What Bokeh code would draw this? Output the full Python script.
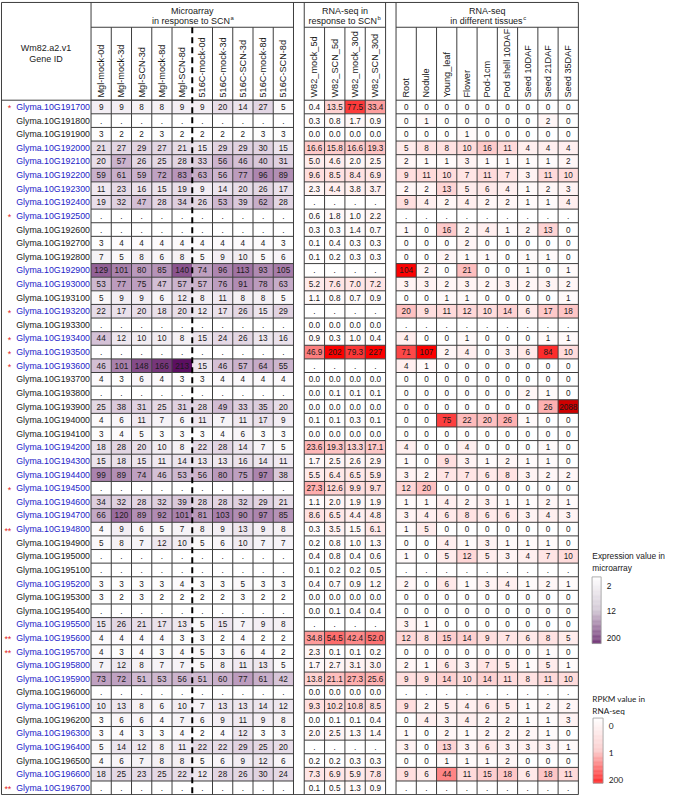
import numpy as np
from bokeh.plotting import figure
from bokeh.models import Range1d, ColumnDataSource, LinearColorMapper
from bokeh.transform import transform
from bokeh.core.properties import value
from bokeh.embed import file_html
from bokeh.resources import INLINE

# ---------------- data ----------------
gene_ids = ["Glyma.10G%d" % n for n in range(191700, 196800, 100)]
blue_genes = ["191700", "192000", "192100", "192200", "192300", "192400", "192500", "192900",
              "193000", "193200", "193400", "193500", "193600", "194200", "194300", "194400",
              "194500", "194600", "194700", "194800", "195200", "195500", "195600", "195700",
              "195800", "195900", "196100", "196300", "196400", "196600", "196700"]
star_marks = {"191700": "*", "192500": "*", "193200": "*", "193400": "*", "193500": "*",
              "193600": "*", "194500": "*", "194800": "**", "195600": "**", "195700": "**",
              "196700": "**"}

ma_cols = ["Mgl-mock-0d", "Mgl-mock-3d", "Mgl-SCN-3d", "Mgl-mock-8d", "Mgl-SCN-8d",
           "516C-mock-0d", "516C-mock-3d", "516C-SCN-3d", "516C-mock-8d", "516C-SCN-8d"]
scn_cols = ["W82_mock_5d", "W82_SCN_5d", "W82_mock_30d", "W82_SCN_30d"]
tis_cols = ["Root", "Nodule", "Young_leaf", "Flower", "Pod-1cm", "Pod shell 10DAF",
            "Seed 10DAF", "Seed 21DAF", "Seed 35DAF"]

ma_values = [
    [9, 9, 8, 8, 9, 9, 20, 14, 27, 5],
    None,
    [3, 2, 2, 3, 2, 2, 2, 2, 3, 3],
    [21, 27, 29, 27, 21, 15, 29, 29, 30, 15],
    [20, 57, 26, 25, 28, 33, 56, 46, 40, 31],
    [59, 61, 59, 72, 83, 63, 56, 77, 96, 89],
    [11, 23, 16, 15, 19, 9, 14, 20, 26, 17],
    [19, 32, 47, 28, 34, 26, 53, 39, 62, 28],
    None,
    None,
    [3, 4, 4, 4, 4, 4, 4, 4, 4, 3],
    [7, 5, 8, 6, 8, 5, 9, 10, 5, 6],
    [129, 101, 80, 85, 140, 74, 96, 113, 93, 105],
    [53, 77, 75, 47, 57, 57, 76, 91, 78, 63],
    [5, 9, 9, 6, 12, 8, 11, 8, 8, 5],
    [22, 17, 20, 18, 20, 12, 17, 26, 15, 29],
    None,
    [44, 12, 10, 10, 8, 15, 24, 26, 13, 16],
    None,
    [46, 101, 148, 166, 213, 15, 46, 57, 64, 55],
    [4, 3, 6, 4, 3, 3, 4, 4, 4, 4],
    None,
    [25, 38, 31, 25, 31, 28, 49, 33, 35, 20],
    [4, 6, 11, 7, 6, 11, 7, 11, 17, 9],
    [3, 4, 5, 3, 3, 3, 4, 6, 3, 3],
    [18, 28, 20, 10, 8, 22, 28, 14, 7, 5],
    [15, 18, 15, 11, 14, 13, 13, 16, 14, 11],
    [99, 89, 74, 46, 53, 56, 80, 75, 97, 38],
    None,
    [34, 32, 28, 32, 39, 28, 28, 32, 29, 21],
    [66, 120, 89, 92, 101, 81, 103, 90, 97, 85],
    [4, 9, 6, 5, 7, 8, 9, 13, 9, 8],
    [5, 8, 7, 12, 10, 5, 6, 10, 7, 7],
    None,
    None,
    [3, 3, 3, 3, 4, 3, 3, 5, 3, 3],
    [3, 2, 3, 2, 2, 2, 2, 3, 2, 2],
    None,
    [15, 26, 21, 17, 13, 5, 15, 7, 9, 8],
    [4, 4, 4, 4, 3, 3, 2, 4, 2, 2],
    [4, 3, 4, 3, 4, 5, 3, 6, 4, 2],
    [7, 12, 8, 7, 7, 5, 8, 11, 13, 5],
    [73, 72, 51, 53, 56, 51, 60, 77, 61, 42],
    None,
    [10, 13, 8, 6, 10, 7, 13, 13, 14, 12],
    [3, 6, 6, 4, 7, 6, 9, 11, 9, 8],
    [3, 4, 3, 3, 4, 2, 4, 12, 3, 3],
    [5, 14, 12, 8, 11, 22, 22, 29, 25, 20],
    [4, 6, 7, 8, 8, 5, 6, 9, 12, 6],
    [18, 25, 23, 25, 22, 12, 28, 26, 30, 24],
    None,
]

scn_values = [
    [0.4, 13.5, 77.5, 33.4],
    [0.3, 0.8, 1.7, 0.9],
    [0.0, 0.0, 0.0, 0.0],
    [16.6, 15.8, 16.6, 19.3],
    [5.0, 4.6, 2.0, 2.5],
    [9.6, 8.5, 8.4, 6.9],
    [2.3, 4.4, 3.8, 3.7],
    None,
    [0.6, 1.8, 1.0, 2.2],
    [0.3, 0.3, 1.4, 0.7],
    [0.1, 0.4, 0.3, 0.3],
    [0.1, 0.2, 0.3, 0.3],
    None,
    [5.2, 7.6, 7.0, 7.2],
    [1.1, 0.8, 0.7, 0.9],
    None,
    [0.0, 0.0, 0.0, 0.0],
    [0.9, 0.3, 1.0, 0.4],
    [46.9, 202, 79.3, 227],
    None,
    [0.0, 0.0, 0.0, 0.0],
    [0.0, 0.1, 0.1, 0.1],
    [0.0, 0.0, 0.0, 0.0],
    [0.1, 0.1, 0.3, 0.1],
    [0.0, 0.0, 0.0, 0.0],
    [23.6, 19.3, 13.3, 17.1],
    [1.7, 2.5, 2.6, 2.9],
    [5.5, 6.4, 6.5, 5.9],
    [27.3, 12.6, 9.9, 9.7],
    [1.1, 2.0, 1.9, 1.9],
    [8.6, 6.5, 4.4, 4.8],
    [0.3, 3.5, 1.5, 6.1],
    [0.2, 0.8, 1.0, 1.3],
    [0.4, 0.8, 0.4, 0.6],
    [0.1, 0.2, 0.2, 0.5],
    [0.4, 0.7, 0.9, 1.2],
    [0.0, 0.0, 0.0, 0.0],
    [0.0, 0.1, 0.4, 0.4],
    None,
    [34.8, 54.5, 42.4, 52.0],
    [2.3, 0.1, 0.1, 0.2],
    [1.7, 2.7, 3.1, 3.0],
    [13.8, 21.1, 27.3, 25.6],
    [0.0, 0.0, 0.0, 0.0],
    [9.3, 10.2, 10.8, 8.5],
    [0.0, 0.1, 0.1, 0.4],
    [2.0, 2.5, 1.3, 1.4],
    None,
    [0.2, 0.2, 0.3, 0.3],
    [7.3, 6.9, 5.9, 7.8],
    [0.1, 0.5, 1.3, 0.9],
]

tissue_values = [
    [0, 0, 0, 0, 0, 0, 0, 0, 0],
    [0, 1, 0, 0, 0, 0, 0, 2, 0],
    [0, 0, 0, 1, 0, 0, 0, 0, 0],
    [5, 8, 8, 10, 16, 11, 4, 4, 4],
    [2, 1, 1, 3, 1, 1, 1, 1, 2],
    [9, 11, 10, 7, 11, 7, 3, 11, 10],
    [2, 2, 13, 5, 6, 4, 1, 2, 3],
    [9, 4, 2, 4, 2, 2, 1, 1, 4],
    None,
    [1, 0, 16, 2, 4, 1, 2, 13, 0],
    [0, 0, 0, 2, 0, 0, 0, 0, 0],
    [0, 0, 2, 1, 1, 0, 1, 1, 0],
    [104, 2, 0, 21, 0, 0, 1, 0, 1],
    [3, 3, 2, 3, 2, 3, 2, 3, 2],
    [0, 0, 1, 1, 0, 0, 0, 0, 1],
    [20, 9, 11, 12, 10, 14, 6, 17, 18],
    None,
    [4, 0, 0, 1, 0, 0, 0, 1, 1],
    [71, 107, 2, 4, 0, 3, 6, 84, 10],
    [4, 1, 0, 0, 0, 0, 0, 0, 0],
    [0, 0, 0, 0, 0, 0, 0, 0, 0],
    [0, 0, 0, 0, 0, 0, 2, 1, 0],
    [0, 0, 0, 0, 0, 0, 0, 26, 2088],
    [0, 0, 75, 22, 20, 26, 1, 0, 0],
    [0, 0, 0, 0, 0, 0, 0, 0, 0],
    [4, 0, 0, 4, 0, 0, 0, 1, 0],
    [1, 0, 9, 3, 1, 2, 1, 1, 0],
    [3, 2, 7, 7, 6, 8, 3, 2, 2],
    [12, 20, 0, 0, 0, 0, 0, 0, 0],
    [1, 1, 4, 2, 3, 1, 1, 2, 1],
    [3, 4, 6, 8, 6, 6, 3, 4, 3],
    [1, 5, 0, 0, 0, 0, 0, 0, 0],
    [0, 0, 4, 1, 3, 1, 1, 1, 0],
    [1, 0, 5, 12, 5, 3, 4, 7, 10],
    None,
    [2, 0, 6, 1, 3, 4, 1, 2, 1],
    [0, 0, 0, 0, 0, 0, 0, 0, 0],
    [0, 0, 0, 0, 0, 0, 0, 0, 0],
    [3, 1, 0, 0, 0, 0, 0, 0, 0],
    [12, 8, 15, 14, 9, 7, 6, 8, 5],
    [0, 0, 0, 0, 0, 0, 0, 1, 0],
    [2, 1, 6, 3, 7, 5, 1, 5, 1],
    [9, 9, 14, 10, 14, 11, 8, 11, 10],
    None,
    [9, 2, 5, 4, 6, 5, 1, 2, 2],
    [0, 4, 3, 4, 2, 2, 1, 1, 3],
    [1, 0, 2, 1, 2, 2, 2, 1, 0],
    [3, 0, 13, 3, 6, 3, 3, 3, 1],
    [0, 0, 1, 1, 1, 2, 0, 0, 0],
    [9, 6, 44, 11, 15, 18, 6, 18, 11],
    None,
]

ma_legend_ticks = ["2", "12", "200"]
rna_legend_ticks = ["0", "1", "200"]

# ---------------- layout (reference pixel space) ----------------
W, H = 685, 811
FW, FH = 669, 795
FS = FW / W
FONT = "Liberation Sans"


def fpx(s):
    return value("%.2fpx" % (s * FS))


ROW0, ROWH = 101.7, 13.89
NR = len(gene_ids)
row_edges = [ROW0 + ROWH * k for k in range(NR + 1)]
BOTTOM = row_edges[-1]
TOP = 2.0
TITLE_Y = 27.3
LEFT = 1.0
GENE_R = 92.7
ma_edges = list(np.linspace(92.7, 300.0, len(ma_cols) + 1))
scn_edges = list(np.linspace(311.0, 394.3, len(scn_cols) + 1))
tis_edges = list(np.linspace(405.0, 591.7, len(tis_cols) + 1))
RIGHT = tis_edges[-1]


def lerp(c1, c2, t):
    t = min(max(t, 0.0), 1.0)
    return "#%02x%02x%02x" % tuple(int(round(a + (b - a) * t)) for a, b in zip(c1, c2))


WHITE = (255, 255, 255)
MA_MID = (238, 231, 239)
MA_MAX = (92, 15, 98)


def ma_color(v):
    if v <= 12:
        return lerp(WHITE, MA_MID, (v - 2) / 10.0)
    return lerp(MA_MID, MA_MAX, (v - 12) / 188.0)


def rna_color(v):
    f = min(1.0, (max(v, 0) / 105.0) ** 0.85)
    return lerp(WHITE, (252, 0, 0), f)


ma_pal = [ma_color(v) for v in np.arange(2, 200.0001, 0.1)]
rna_pal = [rna_color(v) for v in np.arange(0, 250.0001, 0.1)]
ma_mapper = LinearColorMapper(palette=ma_pal, low=2, high=200, low_color="#ffffff",
                              high_color=lerp(MA_MID, MA_MAX, 1.0), nan_color="#ffffff")
rna_mapper = LinearColorMapper(palette=rna_pal, low=0, high=250, low_color="#ffffff",
                               high_color="#cf0000", nan_color="#ffffff")

p = figure(width=FW, height=FH, x_range=Range1d(0, W), y_range=Range1d(H, 0),
           x_axis_type=None, y_axis_type=None, toolbar_location=None,
           output_backend="svg", min_border=0, outline_line_color=None)
p.background_fill_color = "white"
p.border_fill_color = "white"
p.grid.visible = False


def block(values, edges, mapper, fmt):
    xs, ys, ws, vs, labels = [], [], [], [], []
    ncol = len(edges) - 1
    for r, row in enumerate(values):
        for c in range(ncol):
            v = np.nan if row is None else float(row[c])
            xs.append((edges[c] + edges[c + 1]) / 2)
            ys.append((row_edges[r] + row_edges[r + 1]) / 2)
            ws.append(edges[c + 1] - edges[c])
            vs.append(v)
            labels.append("." if row is None else fmt(v))
    src = ColumnDataSource(dict(x=xs, y=ys, w=ws, v=vs, t=labels))
    p.rect(x="x", y="y", width="w", height=ROWH, source=src,
           fill_color=transform("v", mapper), line_color=None)
    p.text(x="x", y="y", text="t", source=src, text_font=value(FONT),
           text_font_size=fpx(8.4), text_align="center", text_baseline="middle",
           text_color="#1a1a1a")


block(ma_values, ma_edges, ma_mapper, lambda v: "%d" % v)
block(scn_values, scn_edges, rna_mapper, lambda v: ("%d" % v) if v >= 100 else ("%.1f" % v))
block(tissue_values, tis_edges, rna_mapper, lambda v: "%d" % v)

# ---------------- grid lines ----------------
x0, y0, x1, y1 = [], [], [], []


def seg(a, b, c, d):
    x0.append(a); y0.append(b); x1.append(c); y1.append(d)


seg(LEFT, TOP, RIGHT, TOP)
seg(LEFT, BOTTOM, RIGHT, BOTTOM)
seg(LEFT, TOP, LEFT, BOTTOM)
seg(RIGHT, TOP, RIGHT, BOTTOM)
seg(LEFT, ROW0, ma_edges[-1], ROW0)
for xv in [GENE_R, ma_edges[-1], scn_edges[0], scn_edges[-1], tis_edges[0]]:
    seg(xv, TOP, xv, BOTTOM)
for edges in (ma_edges, scn_edges, tis_edges):
    seg(edges[0], TITLE_Y, edges[-1], TITLE_Y)
    for k in range(1, len(edges) - 1):
        if edges is ma_edges and k == 5:
            continue
        seg(edges[k], TITLE_Y, edges[k], BOTTOM)
    for yv in row_edges[:-1]:
        seg(edges[0], yv, edges[-1], yv)
p.segment(x0=x0, y0=y0, x1=x1, y1=y1, line_color="#3d3d3d", line_width=1)
p.segment(x0=[ma_edges[5]], y0=[TITLE_Y], x1=[ma_edges[5]], y1=[BOTTOM],
          line_color="black", line_width=2, line_dash="6 4")

# ---------------- gene ids ----------------
gy = [(row_edges[r] + row_edges[r + 1]) / 2 for r in range(NR)]
gcol = ["#2323c8" if g[-6:] in blue_genes else "#1a1a1a" for g in gene_ids]
p.text(x=[91.6] * NR, y=gy, text=gene_ids, text_color=gcol, text_font=value(FONT),
       text_font_size=fpx(9.0), text_align="right", text_baseline="middle")
sx, sy, st = [], [], []
for r, g in enumerate(gene_ids):
    if g[-6:] in star_marks:
        sx.append(11.0); sy.append(gy[r] + 1.5); st.append(star_marks[g[-6:]])
p.text(x=sx, y=sy, text=st, text_color="#e32222", text_font=value(FONT),
       text_font_size=fpx(9.0), text_align="right", text_baseline="middle")

# ---------------- headers ----------------
def htext(x, y, t, size=9.2, align="center", color="#1a1a1a", font=FONT):
    p.text(x=[x], y=[y], text=[t], text_font=value(font), text_font_size=fpx(size),
           text_align=align, text_baseline="middle", text_color=color)


htext(46.5, 48.5, "Wm82.a2.v1")
htext(46.5, 60.0, "Gene ID")
htext((ma_edges[0] + ma_edges[-1]) / 2, 10.5, "Microarray")
htext(235.0, 21.0, "in response to SCN", align="right")
htext(235.6, 18.0, "a", size=6.0, align="left")
htext((scn_edges[0] + scn_edges[-1]) / 2, 10.5, "RNA-seq in")
htext(385.4, 21.0, "response to SCN", align="right")
htext(386.0, 18.0, "b", size=6.0, align="left")
htext((tis_edges[0] + tis_edges[-1]) / 2, 10.5, "RNA-seq")
htext(534.6, 21.0, "in different tissues", align="right")
htext(535.2, 18.0, "c", size=6.0, align="left")

lab_x, lab_t = [], []
for edges, cols in ((ma_edges, ma_cols), (scn_edges, scn_cols), (tis_edges, tis_cols)):
    for k, name in enumerate(cols):
        lab_x.append((edges[k] + edges[k + 1]) / 2)
        lab_t.append(name)
p.text(x=lab_x, y=[99.0] * len(lab_x), text=lab_t, angle=np.pi / 2,
       text_font=value(FONT), text_font_size=fpx(9.4), text_align="left",
       text_baseline="middle", text_color="#1a1a1a")

# ---------------- legends ----------------
def gradient_bar(xl, xr, yt, yb, c0, cm, c1, n=80):
    qs = np.linspace(yt, yb, n + 1)
    cols = []
    for i in range(n):
        t = (i + 0.5) / n
        cols.append(lerp(c0, cm, t / 0.5) if t < 0.5 else lerp(cm, c1, (t - 0.5) / 0.5))
    p.quad(left=[xl] * n, right=[xr] * n, top=list(qs[:-1]), bottom=list(qs[1:]),
           fill_color=cols, line_color=None)
    p.quad(left=[xl], right=[xr], top=[yt], bottom=[yb], fill_color=None,
           line_color="#9a9a9a", line_width=0.8)


htext(606.0, 567.0, "Expression value in", size=8.6, align="left")
htext(606.0, 579.0, "microarray", size=8.6, align="left")
gradient_bar(605.7, 615.0, 588.0, 656.0, WHITE, (203, 192, 206), (90, 20, 96))
for yv, t in zip([597.0, 623.0, 650.0], ma_legend_ticks):
    htext(620.7, yv, t, size=8.6, align="left")

htext(606.0, 713.0, "RPKM value in", size=8.4, align="left", font="Lato")
htext(606.0, 724.5, "RNA-seq", size=8.4, align="left", font="Lato")
gradient_bar(606.7, 617.0, 732.0, 798.5, WHITE, (250, 196, 196), (255, 0, 0))
for yv, t in zip([740.0, 768.0, 795.0], rna_legend_ticks):
    htext(622.7, yv, t, size=8.6, align="left", font="Lato")

open("out.html", "w").write(file_html(p, INLINE))
